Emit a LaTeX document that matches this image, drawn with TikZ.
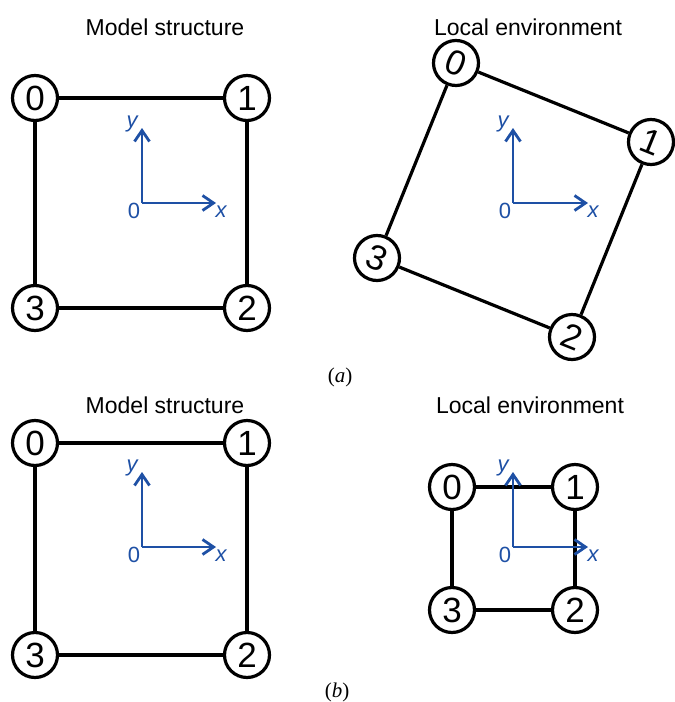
\documentclass[tikz,border=0pt]{standalone}
\usepackage{fontspec}
\setmainfont{Liberation Sans}
\newfontfamily\capfont{Liberation Serif}
\usetikzlibrary{arrows.meta}
\definecolor{axblue}{RGB}{30,80,165}
\begin{document}
\begin{tikzpicture}[x=0.5pt,y=-0.5pt,
  site/.style={circle,draw=black,line width=1.6pt,minimum size=22.5pt,inner sep=0pt,fill=white,font=\fontsize{17.5}{17.5}\selectfont},
  bond/.style={line width=1.6pt},
  axis/.style={draw=axblue,line width=1.4pt,-{Straight Barb[length=5.5pt,width=7.5pt,line width=1.4pt]}},
  axlab/.style={text=axblue,font=\fontsize{11}{11}\selectfont,inner sep=0pt},
  paneltitle/.style={font=\fontsize{11.5}{12}\selectfont},
  captext/.style={font=\capfont\fontsize{10.5}{11}\selectfont}]
\useasboundingbox (0,0) rectangle (675,702);

% ---------- (a) left ----------
\node[paneltitle] (tal) at (165,27) {Model structure};
\node[site] (a0) at (35,98) {0};
\node[site] (a1) at (247,98) {1};
\node[site] (a2) at (247,308) {2};
\node[site] (a3) at (35,308) {3};
\draw[bond] (a0) -- (a1) (a1) -- (a2) (a2) -- (a3) (a3) -- (a0);
\coordinate (aO) at (142,203);
\coordinate (aY) at (142,128);
\coordinate (aX) at (216,203);
\draw[axis] (aO) -- (aY);
\draw[axis] (aO) -- (aX);
\node[axlab] (aOl) at (134,211) {0};
\node[axlab] (aYl) at (132,124) {\itshape y};
\node[axlab] (aXl) at (221,212) {\itshape x};

% ---------- (a) right ----------
\node[paneltitle] (tar) at (528,27) {Local environment};
\node[site,rotate=-22] (b0) at (456,63) {0};
\node[site,rotate=-22] (b1) at (651,142) {1};
\node[site,rotate=-22] (b2) at (572,337) {2};
\node[site,rotate=-22] (b3) at (377,258) {3};
\draw[bond] (b0) -- (b1) (b1) -- (b2) (b2) -- (b3) (b3) -- (b0);
\coordinate (bO) at (513,203);
\coordinate (bY) at (513,128);
\coordinate (bX) at (588,203);
\draw[axis] (bO) -- (bY);
\draw[axis] (bO) -- (bX);
\node[axlab] (bOl) at (505,211) {0};
\node[axlab] (bYl) at (503,124) {\itshape y};
\node[axlab] (bXl) at (593,212) {\itshape x};

\node[captext] (capa) at (340,377) {(\itshape a\upshape)};

% ---------- (b) left ----------
\node[paneltitle] (tbl) at (165,405) {Model structure};
\node[site] (c0) at (35,443) {0};
\node[site] (c1) at (247,443) {1};
\node[site] (c2) at (247,655) {2};
\node[site] (c3) at (35,655) {3};
\draw[bond] (c0) -- (c1) (c1) -- (c2) (c2) -- (c3) (c3) -- (c0);
\coordinate (cO) at (142,547);
\coordinate (cY) at (142,472);
\coordinate (cX) at (216,547);
\draw[axis] (cO) -- (cY);
\draw[axis] (cO) -- (cX);
\node[axlab] (cOl) at (134,555) {0};
\node[axlab] (cYl) at (132,468) {\itshape y};
\node[axlab] (cXl) at (221,556) {\itshape x};

% ---------- (b) right ----------
\node[paneltitle] (tbr) at (530,405) {Local environment};
\node[site] (d0) at (452,487) {0};
\node[site] (d1) at (575,487) {1};
\node[site] (d2) at (575,610) {2};
\node[site] (d3) at (452,610) {3};
\draw[bond] (d0) -- (d1) (d1) -- (d2) (d2) -- (d3) (d3) -- (d0);
\coordinate (dO) at (513,547);
\coordinate (dY) at (513,472);
\coordinate (dX) at (588,547);
\draw[axis] (dO) -- (dY);
\draw[axis] (dO) -- (dX);
\node[axlab] (dOl) at (505,555) {0};
\node[axlab] (dYl) at (503,468) {\itshape y};
\node[axlab] (dXl) at (593,556) {\itshape x};

\node[captext] (capb) at (337,692) {(\itshape b\upshape)};
\end{tikzpicture}
\end{document}
